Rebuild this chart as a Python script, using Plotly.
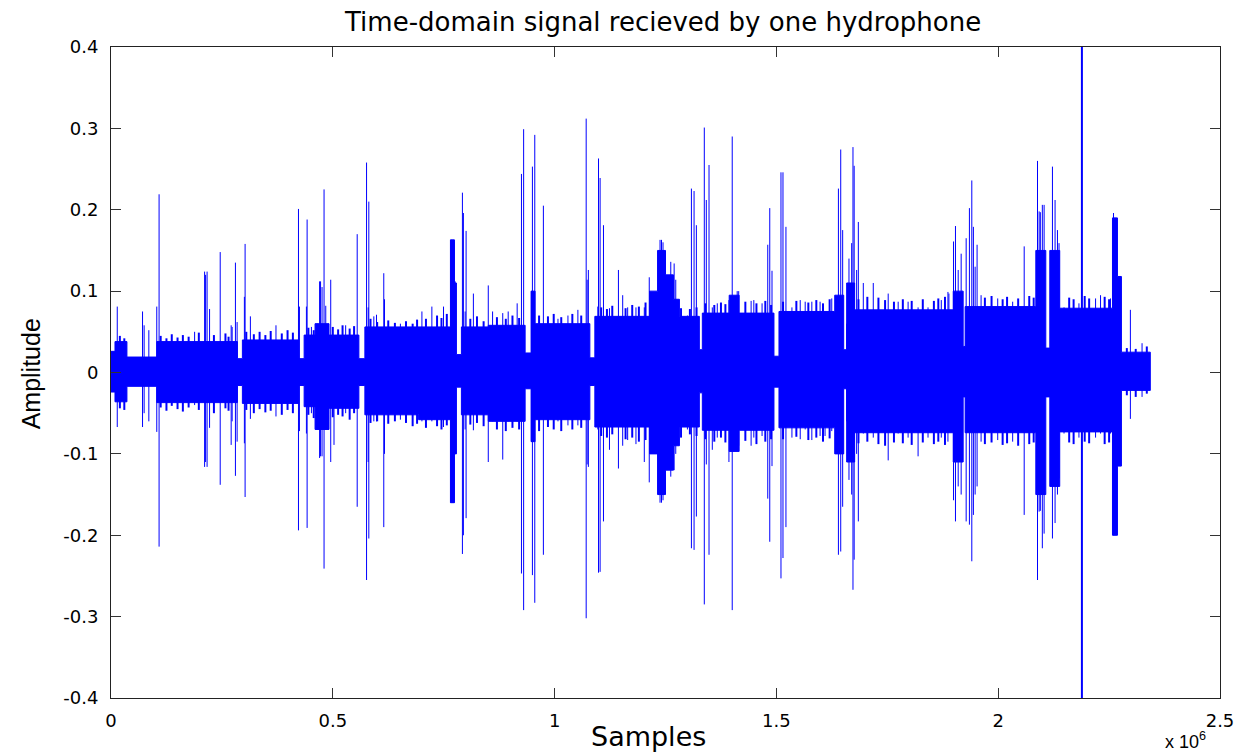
import plotly.graph_objects as go

# ---------------- data (x in units of 10^6 samples) ----------------
# Base envelope of the noise band: segments [start, end] with upper / lower level
SEG_START = [0.0000, 0.0090, 0.0359, 0.1032, 0.2850, 0.2962, 0.4219, 0.4354, 0.4600, 0.4915,
             0.5588, 0.5723, 0.6934, 0.7652, 0.7742, 0.7787, 0.7899, 0.8505, 0.9336, 0.9470,
             0.9560, 1.0795, 1.0907, 1.2141, 1.2321, 1.2500, 1.2680, 1.2814, 1.3263, 1.3330,
             1.3936, 1.4160, 1.4945, 1.5058, 1.6315, 1.6517, 1.6584, 1.6764, 1.8986, 1.9210,
             1.9255, 2.0848, 2.1073, 2.1163, 2.1387, 2.2576, 2.2688, 2.2778]
SEG_END = [0.0090, 0.0359, 0.1032, 0.2850, 0.2962, 0.4219, 0.4354, 0.4600, 0.4915, 0.5588,
           0.5723, 0.6934, 0.7652, 0.7742, 0.7787, 0.7899, 0.8505, 0.9336, 0.9470, 0.9560,
           1.0795, 1.0907, 1.2141, 1.2321, 1.2500, 1.2680, 1.2814, 1.3263, 1.3330, 1.3936,
           1.4160, 1.4945, 1.5058, 1.6315, 1.6517, 1.6584, 1.6764, 1.8986, 1.9210, 1.9255,
           2.0848, 2.1073, 2.1163, 2.1387, 2.2576, 2.2688, 2.2778, 2.3429]
SEG_UPPER = [0.026, 0.038, 0.019, 0.038, 0.017, 0.040, 0.017, 0.046, 0.060, 0.046,
             0.017, 0.056, 0.056, 0.163, 0.110, 0.022, 0.056, 0.058, 0.024, 0.100,
             0.060, 0.018, 0.069, 0.100, 0.150, 0.120, 0.090, 0.069, 0.028, 0.073,
             0.095, 0.073, 0.020, 0.075, 0.095, 0.028, 0.110, 0.077, 0.100, 0.032,
             0.081, 0.150, 0.030, 0.150, 0.079, 0.190, 0.118, 0.025]
SEG_LOWER = [-0.024, -0.036, -0.017, -0.037, -0.016, -0.038, -0.016, -0.042, -0.070, -0.044,
             -0.016, -0.052, -0.058, -0.160, -0.100, -0.018, -0.052, -0.060, -0.020, -0.085,
             -0.058, -0.016, -0.067, -0.100, -0.150, -0.120, -0.090, -0.067, -0.025, -0.071,
             -0.097, -0.071, -0.018, -0.068, -0.100, -0.020, -0.110, -0.074, -0.110, -0.030,
             -0.074, -0.150, -0.030, -0.140, -0.073, -0.200, -0.115, -0.022]

# Individual transient spikes: position, positive peak, negative peak
SPIKE_X = [0.0141, 0.0711, 0.0747, 0.0853, 0.1032, 0.1084, 0.1885, 0.2110, 0.2132, 0.2166,
           0.2222, 0.2462, 0.2709, 0.2731, 0.2805, 0.2843, 0.3007, 0.3023, 0.3142, 0.3719,
           0.4226, 0.4248, 0.4405, 0.4421, 0.4518, 0.4652, 0.4702, 0.4724, 0.4758, 0.4803,
           0.4841, 0.4953, 0.5027, 0.5290, 0.5550, 0.5761, 0.5797, 0.5812, 0.5925, 0.5985,
           0.6149, 0.6165, 0.6524, 0.7009, 0.7233, 0.7496, 0.7664, 0.7698, 0.7731, 0.7758,
           0.7922, 0.7944, 0.7983, 0.8005, 0.8169, 0.8505, 0.8602, 0.8831, 0.8954, 0.9156,
           0.9253, 0.9302, 0.9482, 0.9500, 0.9527, 0.9553, 0.9747, 1.0076, 1.0301, 1.0525,
           1.0712, 1.0734, 1.0761, 1.0974, 1.0990, 1.1026, 1.1102, 1.1237, 1.1439, 1.1535,
           1.1647, 1.1834, 1.2022, 1.2134, 1.2282, 1.2377, 1.2410, 1.2444, 1.2471, 1.2619,
           1.2695, 1.2731, 1.2920, 1.2994, 1.3084, 1.3144, 1.3196, 1.3375, 1.3420, 1.3481,
           1.3555, 1.3667, 1.3930, 1.4004, 1.4116, 1.4150, 1.4228, 1.4430, 1.4491, 1.4677,
           1.4805, 1.4850, 1.4901, 1.5103, 1.5148, 1.5215, 1.5350, 1.5537, 1.5649, 1.5799,
           1.5985, 1.6097, 1.6248, 1.6398, 1.6450, 1.6494, 1.6584, 1.6636, 1.6697, 1.6726,
           1.6753, 1.6809, 1.6847, 1.6959, 1.7184, 1.7520, 1.7745, 1.7969, 1.8194, 1.8418,
           1.8717, 1.8867, 1.8889, 1.8993, 1.9037, 1.9098, 1.9165, 1.9278, 1.9351, 1.9405,
           1.9441, 1.9480, 1.9524, 1.9614, 1.9989, 2.0326, 2.0586, 2.0886, 2.0923, 2.0950,
           2.0995, 2.1035, 2.1223, 2.1282, 2.1336, 2.1371, 2.1484, 2.1820, 2.2195, 2.2307,
           2.2531, 2.2599, 2.2632, 2.2666, 2.2980, 2.3243]
SPIKE_TOP = [0.081, 0.075, 0.058, 0.052, 0.081, 0.219, 0.050, 0.124, 0.120, 0.124,
             0.078, 0.148, 0.058, 0.056, 0.135, 0.062, 0.093, 0.158, 0.069, 0.058,
             0.201, 0.081, 0.081, 0.188, 0.056, 0.060, 0.112, 0.112, 0.105, 0.225,
             0.082, 0.114, 0.045, 0.058, 0.170, 0.258, 0.080, 0.210, 0.069, 0.071,
             0.122, 0.090, 0.060, 0.075, 0.081, 0.081, 0.163, 0.160, 0.160, 0.112,
             0.221, 0.196, 0.075, 0.174, 0.097, 0.107, 0.075, 0.073, 0.075, 0.085,
             0.244, 0.299, 0.100, 0.253, 0.100, 0.292, 0.205, 0.066, 0.070, 0.077,
             0.312, 0.114, 0.126, 0.081, 0.263, 0.239, 0.181, 0.079, 0.126, 0.095,
             0.080, 0.080, 0.080, 0.117, 0.087, 0.163, 0.163, 0.160, 0.136, 0.136,
             0.134, 0.114, 0.066, 0.070, 0.226, 0.223, 0.181, 0.301, 0.212, 0.255,
             0.080, 0.085, 0.089, 0.290, 0.100, 0.100, 0.073, 0.088, 0.089, 0.085,
             0.157, 0.202, 0.125, 0.246, 0.246, 0.179, 0.080, 0.089, 0.087, 0.087,
             0.087, 0.075, 0.091, 0.226, 0.274, 0.175, 0.060, 0.140, 0.159, 0.277,
             0.254, 0.126, 0.185, 0.110, 0.110, 0.097, 0.087, 0.087, 0.080, 0.080,
             0.089, 0.099, 0.097, 0.161, 0.180, 0.126, 0.146, 0.165, 0.202, 0.236,
             0.179, 0.130, 0.157, 0.095, 0.091, 0.087, 0.155, 0.260, 0.198, 0.197,
             0.206, 0.206, 0.253, 0.212, 0.175, 0.159, 0.080, 0.085, 0.091, 0.095,
             0.091, 0.196, 0.190, 0.185, 0.077, 0.036]
SPIKE_BOTTOM = [-0.067, -0.067, -0.050, -0.060, -0.073, -0.214, -0.040, -0.116, -0.110, -0.116,
                -0.068, -0.138, -0.089, -0.060, -0.127, -0.085, -0.087, -0.153, -0.057, -0.054,
                -0.194, -0.072, -0.075, -0.191, -0.050, -0.069, -0.105, -0.103, -0.103, -0.241,
                -0.070, -0.110, -0.089, -0.050, -0.165, -0.255, -0.110, -0.204, -0.060, -0.060,
                -0.190, -0.100, -0.058, -0.060, -0.060, -0.067, -0.160, -0.160, -0.160, -0.100,
                -0.223, -0.200, -0.070, -0.179, -0.071, -0.110, -0.060, -0.107, -0.060, -0.060,
                -0.247, -0.292, -0.085, -0.249, -0.085, -0.283, -0.224, -0.060, -0.065, -0.065,
                -0.302, -0.113, -0.116, -0.070, -0.246, -0.245, -0.183, -0.095, -0.118, -0.090,
                -0.083, -0.088, -0.110, -0.135, -0.100, -0.160, -0.160, -0.157, -0.148, -0.128,
                -0.120, -0.100, -0.060, -0.070, -0.216, -0.218, -0.177, -0.285, -0.113, -0.224,
                -0.095, -0.080, -0.110, -0.292, -0.085, -0.090, -0.070, -0.090, -0.080, -0.078,
                -0.155, -0.208, -0.115, -0.253, -0.228, -0.190, -0.080, -0.082, -0.070, -0.083,
                -0.078, -0.078, -0.072, -0.224, -0.220, -0.165, -0.060, -0.132, -0.150, -0.267,
                -0.230, -0.100, -0.183, -0.075, -0.080, -0.108, -0.075, -0.080, -0.103, -0.080,
                -0.080, -0.085, -0.070, -0.157, -0.183, -0.140, -0.150, -0.183, -0.187, -0.232,
                -0.175, -0.150, -0.140, -0.085, -0.083, -0.085, -0.175, -0.255, -0.171, -0.170,
                -0.216, -0.198, -0.204, -0.185, -0.150, -0.130, -0.075, -0.080, -0.080, -0.075,
                -0.075, -0.200, -0.200, -0.195, -0.057, -0.030]

# Small noise peaks that make the ragged edge of the band
TEETH_X = [0.020, 0.030, 0.112, 0.125, 0.137, 0.150, 0.162, 0.175, 0.198, 0.232,
           0.258, 0.265, 0.305, 0.322, 0.335, 0.348, 0.360, 0.385, 0.398, 0.410,
           0.445, 0.457, 0.500, 0.512, 0.522, 0.538, 0.548, 0.585, 0.600, 0.625,
           0.640, 0.665, 0.680, 0.690, 0.710, 0.735, 0.745, 0.757, 0.810, 0.825,
           0.840, 0.870, 0.890, 0.905, 0.920, 0.965, 0.985, 0.998, 1.015, 1.040,
           1.060, 1.105, 1.118, 1.130, 1.160, 1.175, 1.190, 1.205, 1.285, 1.305,
           1.320, 1.340, 1.360, 1.375, 1.385, 1.430, 1.455, 1.475, 1.488, 1.515,
           1.545, 1.572, 1.590, 1.605, 1.620, 1.685, 1.705, 1.730, 1.745, 1.765,
           1.785, 1.805, 1.830, 1.855, 1.865, 1.880, 1.970, 1.985, 2.010, 2.020,
           2.045, 2.070, 2.080, 2.160, 2.170, 2.195, 2.205, 2.240, 2.250, 2.290,
           2.310, 2.335]
TEETH_TOP = [0.045, 0.042, 0.045, 0.042, 0.047, 0.043, 0.046, 0.044, 0.049, 0.046,
             0.048, 0.044, 0.050, 0.047, 0.050, 0.046, 0.051, 0.048, 0.052, 0.049,
             0.055, 0.052, 0.056, 0.053, 0.058, 0.054, 0.057, 0.066, 0.062, 0.064,
             0.061, 0.063, 0.060, 0.065, 0.066, 0.070, 0.067, 0.072, 0.066, 0.069,
             0.063, 0.068, 0.066, 0.070, 0.067, 0.070, 0.069, 0.072, 0.068, 0.072,
             0.070, 0.080, 0.078, 0.082, 0.079, 0.083, 0.081, 0.086, 0.079, 0.078,
             0.080, 0.085, 0.083, 0.086, 0.084, 0.087, 0.085, 0.088, 0.083, 0.087,
             0.088, 0.086, 0.089, 0.085, 0.090, 0.090, 0.093, 0.092, 0.089, 0.087,
             0.090, 0.088, 0.090, 0.088, 0.091, 0.093, 0.092, 0.094, 0.090, 0.093,
             0.091, 0.094, 0.092, 0.092, 0.090, 0.094, 0.091, 0.093, 0.090, 0.030,
             0.029, 0.032]
TEETH_BOTTOM = [-0.044, -0.046, -0.043, -0.047, -0.041, -0.045, -0.048, -0.043, -0.046, -0.050,
                -0.044, -0.047, -0.046, -0.050, -0.045, -0.049, -0.047, -0.052, -0.046, -0.050,
                -0.052, -0.056, -0.055, -0.052, -0.054, -0.058, -0.050, -0.062, -0.060, -0.063,
                -0.060, -0.062, -0.066, -0.063, -0.068, -0.066, -0.070, -0.065, -0.064, -0.062,
                -0.066, -0.070, -0.072, -0.068, -0.070, -0.072, -0.067, -0.070, -0.072, -0.070,
                -0.068, -0.078, -0.080, -0.076, -0.082, -0.080, -0.085, -0.083, -0.080, -0.076,
                -0.078, -0.082, -0.085, -0.080, -0.086, -0.084, -0.088, -0.085, -0.082, -0.082,
                -0.079, -0.083, -0.080, -0.085, -0.081, -0.087, -0.085, -0.088, -0.090, -0.086,
                -0.087, -0.089, -0.086, -0.088, -0.085, -0.089, -0.088, -0.086, -0.089, -0.087,
                -0.090, -0.088, -0.086, -0.086, -0.088, -0.085, -0.087, -0.088, -0.086, -0.028,
                -0.030, -0.026]

# The single off-scale impulse
IMPULSE_X = [2.1887]
IMPULSE_TOP = [0.9]
IMPULSE_BOTTOM = [-0.9]

X_TICKS = [0, 0.5, 1, 1.5, 2, 2.5]
X_TICK_TEXT = ["0", "0.5", "1", "1.5", "2", "2.5"]
Y_TICKS = [-0.4, -0.3, -0.2, -0.1, 0, 0.1, 0.2, 0.3, 0.4]
Y_TICK_TEXT = ["-0.4", "-0.3", "-0.2", "-0.1", "0", "0.1", "0.2", "0.3", "0.4"]

BLUE = "#0000ff"
FONT = "Liberation Sans, Arial, sans-serif"
WIDE_FONT = "DejaVu Sans, Liberation Sans, sans-serif"

# ---------------- build traces ----------------
env_x, env_y = [], []
for s, e, u in zip(SEG_START, SEG_END, SEG_UPPER):
    env_x += [s, e]
    env_y += [u, u]
for s, e, l in reversed(list(zip(SEG_START, SEG_END, SEG_LOWER))):
    env_x += [e, s]
    env_y += [l, l]
env_x.append(env_x[0])
env_y.append(env_y[0])


def vlines(xs, tops, bots):
    vx, vy = [], []
    for x, t, b in zip(xs, tops, bots):
        vx += [x, x, None]
        vy += [t, b, None]
    return vx, vy


sp_x, sp_y = vlines(SPIKE_X, SPIKE_TOP, SPIKE_BOTTOM)
th_x, th_y = vlines(TEETH_X, TEETH_TOP, TEETH_BOTTOM)
im_x, im_y = vlines(IMPULSE_X, IMPULSE_TOP, IMPULSE_BOTTOM)

fig = go.Figure()
fig.add_trace(go.Scatter(x=env_x, y=env_y, mode="lines", fill="toself",
                         fillcolor=BLUE, line=dict(color=BLUE, width=1),
                         hoverinfo="skip", showlegend=False))
fig.add_trace(go.Scatter(x=th_x, y=th_y, mode="lines",
                         line=dict(color=BLUE, width=2),
                         hoverinfo="skip", showlegend=False))
fig.add_trace(go.Scatter(x=sp_x, y=sp_y, mode="lines",
                         line=dict(color=BLUE, width=1),
                         hoverinfo="skip", showlegend=False))
fig.add_trace(go.Scatter(x=im_x, y=im_y, mode="lines",
                         line=dict(color=BLUE, width=2),
                         hoverinfo="skip", showlegend=False))

axis_common = dict(showgrid=False, zeroline=False, showline=True, linecolor="#222222",
                   linewidth=1, mirror="ticks", ticks="inside", ticklen=10,
                   tickcolor="#333333", tickwidth=1,
                   tickfont=dict(family=WIDE_FONT, size=18, color="black"))

fig.update_xaxes(range=[0, 2.5], tickvals=X_TICKS, ticktext=X_TICK_TEXT,
                 ticklabelstandoff=6, **axis_common)
fig.update_yaxes(range=[-0.4, 0.4], tickvals=Y_TICKS, ticktext=Y_TICK_TEXT,
                 ticklabelstandoff=8, **axis_common)

fig.update_layout(
    width=1246, height=756,
    margin=dict(l=111, r=21, t=47, b=58),
    paper_bgcolor="white", plot_bgcolor="white",
    showlegend=False,
    annotations=[
        dict(text="Time-domain signal recieved by one hydrophone", xref="paper", yref="paper",
             x=0.4973, y=1.0384, xanchor="center", yanchor="middle", showarrow=False,
             font=dict(family=WIDE_FONT, size=26, color="black")),
        dict(text="Samples", xref="paper", yref="paper",
             x=0.4847, y=-0.0599, xanchor="center", yanchor="middle", showarrow=False,
             font=dict(family=WIDE_FONT, size=27, color="black")),
        dict(text="Amplitude", xref="paper", yref="paper", textangle=-90,
             x=-0.0718, y=0.4977, xanchor="center", yanchor="middle", showarrow=False,
             font=dict(family=FONT, size=25, color="black")),
        dict(text="x 10<sup>6</sup>", xref="paper", yref="paper",
             x=0.9488, y=-0.066, xanchor="left", yanchor="middle", showarrow=False,
             font=dict(family=FONT, size=18, color="black")),
    ],
)

fig.write_html("out.html")
